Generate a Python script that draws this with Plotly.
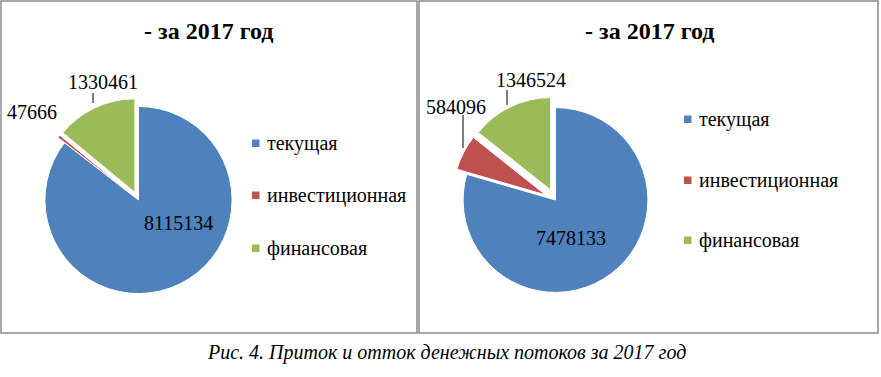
import plotly.graph_objects as go

# ---- data ----
categories = ["текущая", "инвестиционная", "финансовая"]
values_left = [8115134, 47666, 1330461]
values_right = [7478133, 584096, 1346524]
colors = ["#4F81BD", "#C0504D", "#9BBB59"]
chart_title = "- за 2017 год"
caption = "Рис. 4. Приток и отток денежных потоков за 2017 год"

W, H = 881, 377
FONT = "Liberation Serif"


def px(x):
    return x / W


def py(y):
    return 1 - y / H


fig = go.Figure()

panels = [
    dict(values=values_left, pull=[0, 0.09, 0.09],
         dom_x=[px(36.5), px(240.5)], dom_y=[py(302), py(98)],
         box=(1, 1, 417, 333), title_x=208,
         legend_x=252, legend_y=[143, 195, 248],
         labels_pos=[(178, 223), (32, 112), (103, 82)],
         leaders=[None, None, (93, 93, 93, 103)]),
    dict(values=values_right, pull=[0, 0.12, 0.12],
         dom_x=[px(452), px(659)], dom_y=[py(303.5), py(96.5)],
         box=(419, 1, 878, 333), title_x=649,
         legend_x=684, legend_y=[119, 180, 240],
         labels_pos=[(571, 238), (456, 107), (531, 80)],
         leaders=[None, (463, 115, 463, 148), (507, 90, 507, 105)]),
]

shapes = []
annotations = []

for p in panels:
    fig.add_trace(go.Pie(
        labels=categories,
        values=p["values"],
        marker=dict(colors=colors, line=dict(color="white", width=1)),
        sort=False,
        direction="clockwise",
        rotation=0,
        pull=p["pull"],
        textinfo="none",
        hoverinfo="label+value",
        showlegend=False,
        domain=dict(x=p["dom_x"], y=p["dom_y"]),
    ))
    x0, y0, x1, y1 = p["box"]
    shapes.append(dict(type="rect", xref="paper", yref="paper",
                       x0=px(x0), x1=px(x1), y0=py(y1), y1=py(y0),
                       line=dict(color="#8a8a8a", width=1.5)))
    annotations.append(dict(text="<b>%s</b>" % chart_title, x=px(p["title_x"]), y=py(31),
                            xref="paper", yref="paper", showarrow=False,
                            xanchor="center", yanchor="middle",
                            font=dict(family=FONT, size=24, color="black")))
    # data labels
    for v, (lx, ly) in zip(p["values"], p["labels_pos"]):
        annotations.append(dict(text=str(v), x=px(lx), y=py(ly), xref="paper", yref="paper",
                                showarrow=False, xanchor="center", yanchor="middle",
                                font=dict(family=FONT, size=20, color="black")))
    for ld in p["leaders"]:
        if ld:
            shapes.append(dict(type="line", xref="paper", yref="paper",
                               x0=px(ld[0]), y0=py(ld[1]), x1=px(ld[2]), y1=py(ld[3]),
                               line=dict(color="black", width=1)))
    # legend
    for cat, col, ly in zip(categories, colors, p["legend_y"]):
        shapes.append(dict(type="rect", xref="paper", yref="paper",
                           x0=px(p["legend_x"]), x1=px(p["legend_x"] + 7.5),
                           y0=py(ly + 4), y1=py(ly - 3.5),
                           fillcolor=col, line=dict(width=0)))
        annotations.append(dict(text=cat, x=px(p["legend_x"] + 13), y=py(ly),
                                xref="paper", yref="paper", showarrow=False,
                                xanchor="left", yanchor="middle",
                                font=dict(family=FONT, size=20, color="black")))

annotations.append(dict(text="<i>%s</i>" % caption, x=px(446), y=py(352),
                        xref="paper", yref="paper", showarrow=False,
                        xanchor="center", yanchor="middle",
                        font=dict(family=FONT, size=20, color="black")))

fig.update_layout(
    width=W, height=H,
    margin=dict(l=0, r=0, t=0, b=0),
    paper_bgcolor="white",
    plot_bgcolor="white",
    shapes=shapes,
    annotations=annotations,
    font=dict(family=FONT),
)

fig.write_html("out.html",
               config={"displayModeBar": False},
               post_script="document.body.style.margin='0';document.body.style.overflow='hidden';")
